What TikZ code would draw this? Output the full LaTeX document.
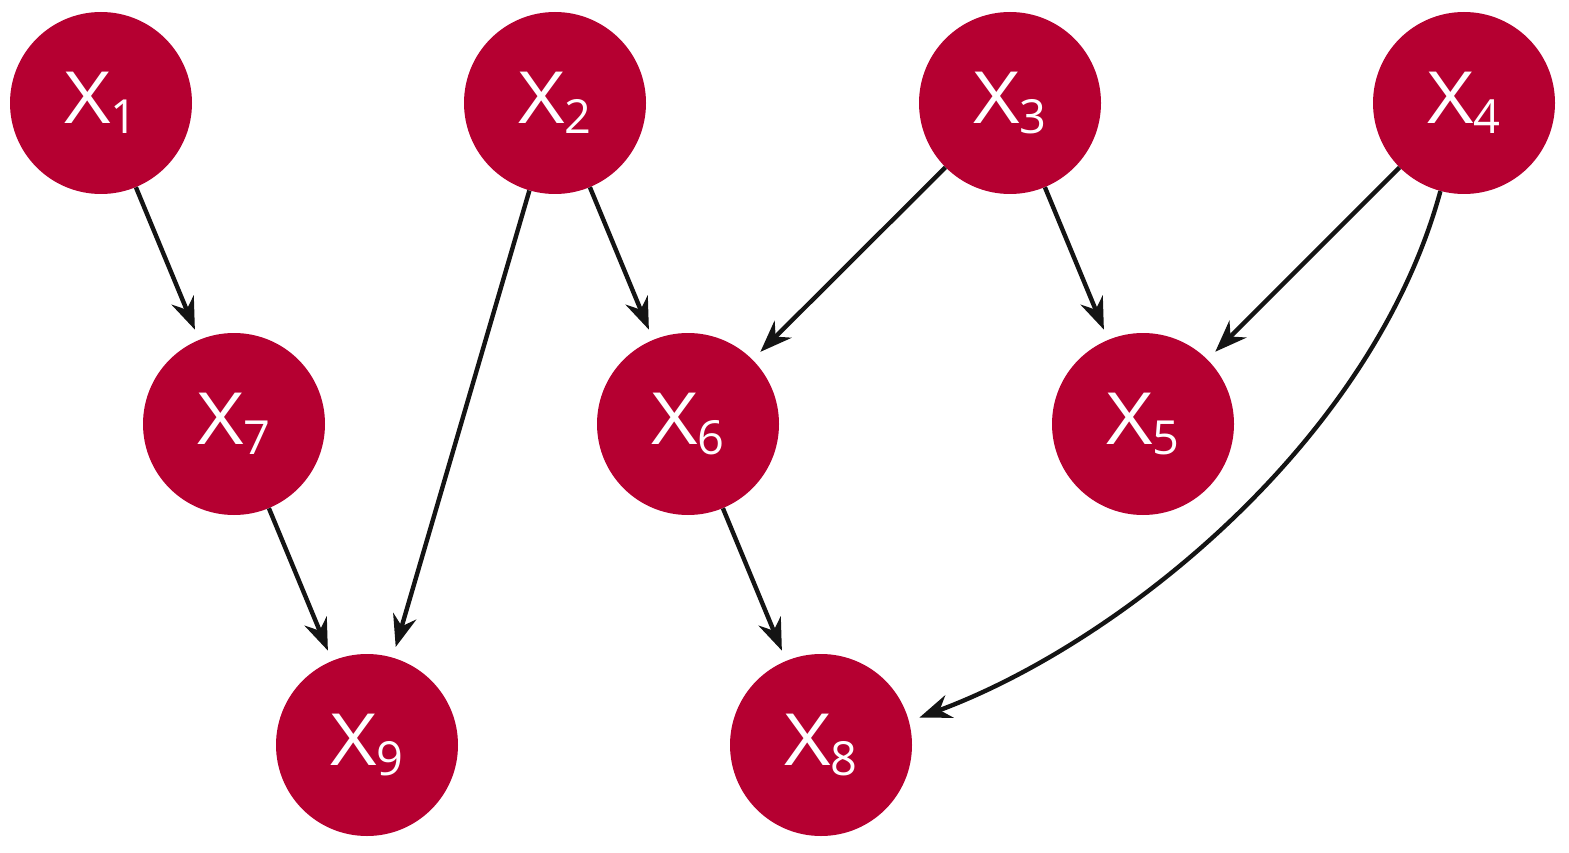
\documentclass[tikz,border=0pt]{standalone}
\usepackage{fontspec}
\setmainfont{Open Sans}
\usetikzlibrary{arrows.meta}
\definecolor{nodered}{RGB}{181,0,49}
\definecolor{edgeblack}{RGB}{20,20,20}
\newcommand{\xlab}[1]{\fontsize{72}{72}\selectfont \scalebox{1.12}[1]{X}\kern-0.5pt\raisebox{-10pt}{\fontsize{47}{47}\selectfont #1}}
\tikzset{
  var/.style={circle, fill=nodered, minimum size=182pt, inner sep=0pt, text=white},
  link/.style={draw=edgeblack, line width=4.4pt, shorten >=11pt,
    -{Stealth[scale=1.4]}}
}
\begin{document}
\begin{tikzpicture}[x=1pt, y=1pt]
\useasboundingbox (0,0) rectangle (1569,-853);
\node[var] (x1) at (101,-103) {\xlab{1}};
\node[var] (x2) at (555,-103) {\xlab{2}};
\node[var] (x3) at (1010,-103) {\xlab{3}};
\node[var] (x4) at (1464,-103) {\xlab{4}};
\node[var] (x7) at (234,-424) {\xlab{7}};
\node[var] (x6) at (688,-424) {\xlab{6}};
\node[var] (x5) at (1143,-424) {\xlab{5}};
\node[var] (x9) at (367,-745) {\xlab{9}};
\node[var] (x8) at (821,-745) {\xlab{8}};
\draw[link] (x1) -- (x7);
\draw[link] (x2) -- (x9);
\draw[link] (x2) -- (x6);
\draw[link] (x3) -- (x6);
\draw[link] (x3) -- (x5);
\draw[link] (x4) -- (x5);
\draw[link] (x7) -- (x9);
\draw[link] (x6) -- (x8);
\draw[link] (x4.-105) .. controls +(-68,-250) and +(211,78) .. (x8.15);
\end{tikzpicture}
\end{document}
